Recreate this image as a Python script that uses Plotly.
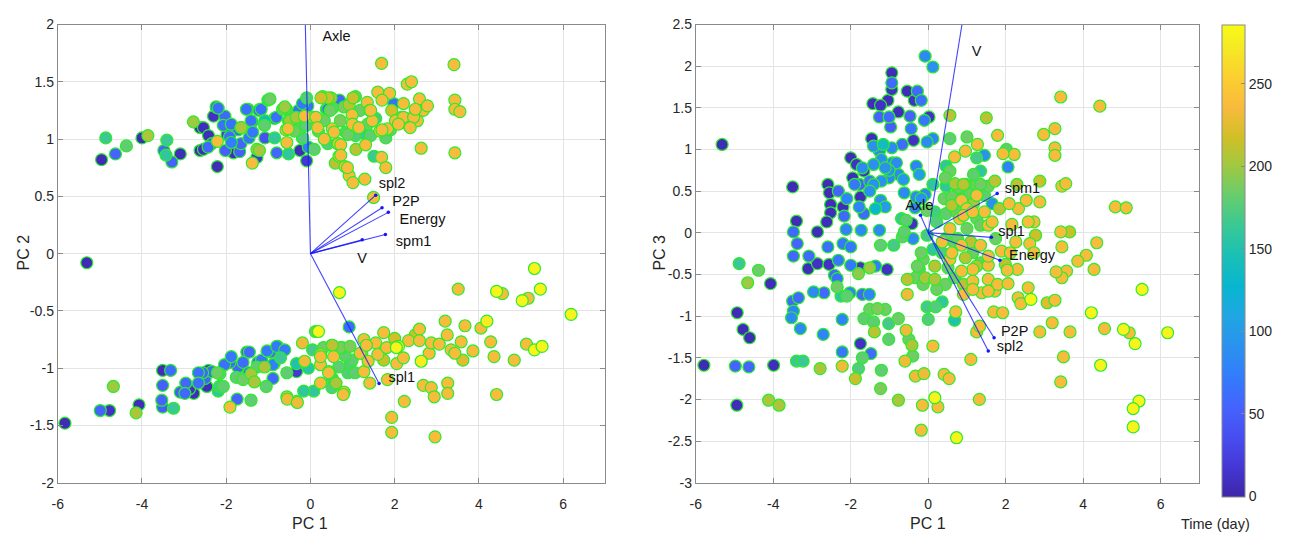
import plotly.graph_objects as go

# ---------------- scores: PC1 vs PC2 (upper branch) ----------------
up_pc1 = [
    -4.86, -4.96, -4.63, -4.37, -4.0, -3.86, -3.41, -3.48, -3.29, -3.09,
    -3.43, -2.78, -2.62, -2.62, -2.24, -2.30, -2.21, -2.21, -2.43, -2.07,
    -1.98, -1.88, -1.83, -1.65, -1.52, -1.22, -1.38, -1.46, -1.38, -1.27,
    -1.08, -1.01, -0.85, -0.80, -0.66, -0.58, -0.56, -0.61, -0.28, -0.25,
    -0.09, -0.09, 0.05, -0.19, -0.38, 0.09, 0.25, 0.42, 0.38, 0.69,
    0.47, 0.52, 0.66, 0.68, 0.59, 0.82, 0.92, 1.01, 1.29, 1.01,
    0.99, 1.06, 1.08, 1.35, 1.60, 1.88, 1.69, 1.41, 1.65, 1.83,
    1.69, 1.79, 1.98, 2.21, 2.16, 2.30, 2.40, 2.40, 2.35, 2.59,
    2.68, 2.78, 2.54, 2.63, 3.41, 3.43, 3.43, 3.55, 3.43, 1.36,
    1.79, 1.32, 0.80, 0.89, 1.50, 2.02, 0.33, 0.19, 0.71, 1.18,
    -0.85, -1.65, -1.08, -0.52, -2.02, -1.27, -0.52, -0.05, -0.19, 1.93,
    1.55,
    -0.96, -1.20, -0.81, -0.57, -0.53, -0.49, -0.34, -0.26, -0.14, -0.18,
    -0.06, -0.10, 0.13, 0.17, 0.29, 0.49, 0.41, 0.53, 1.07, 0.33,
    0.56, 0.41, 0.64, 0.72, 0.84, 1.00, 1.15, 1.07, 0.92, 0.72,
    0.88, 1.31, 1.43, 1.47, 1.43, 1.70, 1.70, 1.90, 2.21, 2.45,
    2.37, 2.09, 2.49, 1.51,
    -2.54, -2.42, -2.34, -2.19, -2.03, -1.88, -1.92, -1.72, -1.68, -1.48,
    -1.41, -1.37, -1.17, -1.09, -1.21, -1.64, -2.54,
]
up_pc2 = [
    1.01, 0.82, 0.87, 0.94, 1.01, 1.03, 0.99, 0.90, 0.80, 0.87,
    0.86, 1.15, 1.10, 0.90, 1.28, 1.20, 0.98, 0.76, 0.93, 1.12,
    1.04, 0.97, 0.88, 1.10, 1.26, 1.25, 1.15, 1.01, 0.79, 0.91,
    1.01, 1.34, 1.18, 0.88, 1.26, 1.08, 0.97, 1.28, 1.25, 0.90,
    1.36, 0.81, 1.19, 1.01, 1.07, 0.91, 1.36, 1.36, 1.26, 1.34,
    1.25, 1.09, 0.96, 0.85, 0.79, 0.76, 0.68, 0.62, 0.65, 1.36,
    1.21, 1.11, 0.91, 1.32, 1.41, 1.40, 1.66, 1.25, 1.07, 1.09,
    0.84, 0.75, 1.31, 1.31, 1.19, 1.48, 1.50, 1.18, 1.11, 1.35,
    1.25, 1.29, 1.16, 0.92, 1.65, 1.34, 1.26, 1.24, 0.88, 1.13,
    1.01, 1.04, 1.28, 1.04, 0.49, 1.16, 1.00, 1.07, 1.16, 1.25,
    1.01, 0.96, 1.16, 1.16, 0.90, 0.84, 0.87, 0.93, 1.31, 1.25,
    1.18,
    1.35, 1.26, 1.19, 1.26, 1.09, 1.16, 1.19, 1.09, 1.20, 1.01,
    1.29, 1.12, 1.19, 1.10, 1.37, 1.36, 1.26, 1.27, 1.37, 1.16,
    1.06, 0.96, 0.96, 0.95, 1.06, 1.13, 1.10, 1.03, 1.30, 0.86,
    0.75, 0.95, 1.03, 1.16, 1.25, 1.34, 1.08, 1.08, 1.19, 1.19,
    1.10, 1.13, 1.26, 0.85,
    1.10, 1.03, 0.96, 1.27, 1.20, 1.13, 1.02, 1.08, 0.89, 1.26,
    1.16, 1.06, 1.26, 1.12, 0.90, 1.10, 0.91,
]
up_day = [
    165, 5, 55, 180, 6, 205, 165, 58, 55, 8,
    160, 200, 8, 8, 62, 12, 238, 6, 58, 65,
    18, 75, 8, 180, 65, 65, 65, 70, 238, 200,
    40, 170, 58, 58, 185, 238, 238, 200, 65, 8,
    175, 18, 238, 160, 185, 180, 220, 215, 65, 58,
    185, 238, 238, 238, 210, 238, 238, 238, 238, 215,
    238, 238, 210, 238, 238, 238, 238, 238, 238, 238,
    238, 238, 65, 238, 238, 238, 238, 238, 238, 238,
    238, 238, 238, 238, 238, 238, 238, 238, 238, 185,
    180, 165, 190, 185, 238, 238, 238, 185, 190, 185,
    160, 55, 140, 150, 50, 18, 160, 75, 70, 220,
    170,
    185, 62, 65, 180, 238, 205, 205, 180, 238, 175,
    65, 180, 238, 238, 210, 205, 65, 180, 185, 185,
    238, 175, 180, 238, 180, 238, 238, 175, 210, 238,
    238, 238, 180, 238, 238, 238, 238, 185, 238, 238,
    238, 238, 238, 165,
    8, 8, 55, 62, 58, 65, 62, 58, 50, 62,
    65, 70, 65, 180, 205, 205, 8,
]

# ---------------- scores: PC1 vs PC2 (lower branch) ----------------
lo_pc1 = [
    -5.83, -5.31, -4.99, -4.77, -4.68, -4.14, -4.07, -3.51, -3.32, -3.51,
    -3.53, -3.51, -3.25, -3.09, -2.96, -2.66, -2.87, -2.42, -2.21, -2.16,
    -2.04, -1.91, -1.74, -1.60, -1.51, -1.46, -1.41, -1.16, -1.03, -0.80,
    -0.61, -0.89, -0.56, -0.33, -0.71, -0.56, -0.33, -0.19, -0.14, -0.33,
    -0.05, 0.19, 0.24, 0.24, 0.52, 0.44, 0.69, 0.71, 0.80, 0.92,
    0.99, 0.89, 1.27, 1.27, 1.55, 1.60, 1.81, 1.83, 2.00, 2.09,
    2.05, 2.33, 2.21, 2.49, 2.59, 2.59, 2.63, 2.82, 2.87, 3.06,
    3.20, 3.25, 3.34, 3.43, 3.58, 3.67, 3.86, 3.62, 3.51, 4.05,
    4.19, 4.28, 4.36, 4.42, 4.56, 4.42, 4.84, 5.03, 5.17, 5.13,
    5.32, 5.32, 5.46, 5.50, 6.19, 2.68, 2.87, 2.94, 3.26, 3.26,
    2.23, 1.93, 1.93, 2.96, 1.74, 0.52, 0.61, 0.05, -1.27, -0.89,
    -1.69, -2.50, -1.88, 1.74, 1.22,
    -2.15, -1.76, -1.72, -1.60, -1.45, -1.41, -1.33, -1.25, -1.09, -1.05,
    -0.94, -0.86, -0.78, -1.91, -2.19, -2.07, -2.34, -2.56, -2.66, -2.46,
    -2.98, -2.77,
    0.12, 0.31, 0.51, 0.75, 0.94, 0.24, 0.55, 0.82, 0.43, 0.67,
    0.94, 1.06, 1.18, 1.33, 1.37, 1.41, 0.78, 0.51, 0.08, -0.16,
    -0.55, -0.31, 0.24, 2.04,
]
lo_pc2 = [
    -1.48, -0.08, -1.37, -1.37, -1.16, -1.39, -1.32, -1.02, -1.02, -1.15,
    -1.28, -1.34, -1.35, -1.21, -1.13, -1.04, -1.18, -1.02, -1.04, -1.16,
    -0.97, -1.34, -1.27, -1.10, -0.86, -1.04, -1.28, -0.93, -0.85, -0.81,
    -0.84, -1.09, -1.25, -1.29, -0.91, -1.04, -0.96, -0.78, -0.94, -1.03,
    -1.00, -0.68, -0.88, -0.97, -0.80, -1.03, -0.34, -0.82, -1.21, -0.64,
    -0.93, -1.04, -0.75, -1.03, -0.78, -0.88, -0.82, -1.10, -0.74, -0.81,
    -0.96, -0.76, -0.91, -0.71, -0.66, -0.76, -0.94, -0.87, -0.78, -0.79,
    -0.59, -0.71, -0.84, -0.87, -0.77, -0.63, -0.85, -0.93, -0.31, -0.65,
    -0.59, -0.77, -0.90, -0.33, -0.35, -1.23, -0.93, -0.41, -0.39, -0.79,
    -0.13, -0.84, -0.31, -0.81, -0.53, -1.15, -1.17, -1.25, -1.13, -1.22,
    -1.29, -1.43, -1.56, -1.60, -0.93, -1.09, -1.13, -0.84, -0.99, -0.97,
    -0.99, -1.09, -0.90, -0.69, -0.87,
    -1.05, -1.08, -0.99, -0.95, -0.86, -1.05, -1.12, -0.95, -0.99, -1.16,
    -0.86, -0.96, -0.81, -0.95, -1.20, -1.16, -1.03, -1.04, -1.13, -1.16,
    -1.22, -1.22,
    -0.68, -0.82, -0.80, -0.82, -0.81, -0.90, -0.90, -0.89, -1.04, -0.99,
    -0.97, -1.04, -0.87, -0.80, -0.94, -1.13, -1.23, -1.17, -1.20, -1.20,
    -1.27, -1.30, -1.13, -0.82,
]
lo_day = [
    5, 5, 55, 12, 200, 205, 8, 6, 62, 50,
    55, 50, 165, 50, 58, 62, 12, 12, 185, 170,
    65, 238, 55, 185, 50, 65, 180, 70, 70, 70,
    70, 58, 232, 232, 165, 180, 150, 232, 232, 18,
    155, 280, 238, 238, 210, 238, 280, 190, 238, 62,
    180, 175, 238, 238, 238, 238, 238, 238, 220, 275,
    238, 238, 238, 220, 238, 238, 275, 238, 238, 238,
    238, 238, 238, 238, 238, 238, 238, 225, 238, 238,
    275, 238, 238, 280, 238, 238, 238, 280, 238, 238,
    280, 280, 280, 280, 280, 238, 238, 238, 238, 238,
    238, 238, 238, 238, 215, 175, 205, 170, 180, 75,
    18, 58, 70, 238, 205,
    180, 180, 58, 62, 58, 205, 205, 65, 205, 180,
    65, 65, 62, 62, 160, 180, 58, 58, 62, 8,
    58, 8,
    185, 185, 180, 185, 190, 238, 238, 180, 238, 180,
    175, 180, 238, 238, 238, 238, 238, 175, 160, 160,
    232, 232, 238, 280,
]

# ---------------- scores: PC1 vs PC3 ----------------
r_pc1 = [
    -5.32, -3.50, -3.40, -3.48, -3.38, -3.48, -3.08, -2.86, -3.10, -2.86,
    -2.59, -2.55, -2.52, -2.52, -2.62, -2.32, -2.59, -2.56, -2.32, -2.42,
    -2.35, -2.20, -2.17, -2.12, -2.20, -2.00, -1.95, -1.85, -1.77, -1.78,
    -1.73, -1.75, -1.66, -1.51, -1.46, -1.43, -1.23, -1.26, -1.01, -1.26,
    -1.21, -0.94, -0.94, -0.94, -1.04, -0.77, -0.97, -0.54, -0.28, -0.36,
    -0.18, -0.47, -0.44, -0.10, 0.02, -0.38, -0.08, 0.12, -0.94, -0.67,
    -0.92, -1.01, -0.77, -1.21, -1.41, -1.23, -1.36, -1.11, -0.64, -0.62,
    -0.23, -0.31, -0.03, 0.12, -0.31, -0.08, -0.42, -0.69, -0.67, -0.39,
    -1.06, -1.36, -1.23, -0.89, -1.26, -1.51, -1.75, -1.80, -2.00, -1.66,
    -2.00, -2.02, -1.70, -1.52, -2.25, -2.10, -2.35, -2.69, -2.96, -3.50,
    -3.35, -3.48, -3.53, -3.30, -2.71, -4.93, -4.78, -4.61, -4.88, -4.66,
    -4.38, -4.07, -5.79, -4.98, -4.63, -3.99, -4.94, -4.12, -3.85, -3.40,
    -3.23, -2.79, -2.22, -2.22, -2.22, -1.75, -1.48, -1.70, -1.80, -1.88,
    -1.39, -1.21, -1.23, -1.51, -1.31, -1.11, -1.66, -1.41, -1.02, -1.02,
    -0.77, -0.50, -0.42, -0.40, -0.77, -0.57, -0.60, -0.33, -0.11, -0.15,
    -0.18, 0.17, 0.25, 0.12, 0.00, -0.03, 0.19, 0.36, 0.41, 0.54,
    0.68, 0.71, 0.73, 1.10, 1.32, 1.25, 1.33, -0.54, -0.54, -0.33,
    -0.08, 0.17, 0.44, 0.68, 0.91, 1.15, 1.38, 1.55, 1.72, 1.79,
    1.69, 1.92, 2.06, 2.30, 2.32, 2.39, 2.58, 2.65, 2.88, 3.07,
    3.27, 3.20, 3.66, 3.49, 3.42, 4.21, 4.45, 4.55, 5.04, 5.19,
    5.34, 5.52, 5.44, 5.29, 5.29, 6.18, 4.28, 4.35, 4.08, 3.86,
    3.57, 3.45, 3.30, 3.45, 3.42, 3.65, 4.83, 5.11, 3.45, 3.55,
    2.88, 2.88, 2.73, 2.58, 2.77, 2.62, 2.73, 2.98, 3.27, 3.27,
    3.27, 3.42, 4.43, 1.79, 2.22, 1.93, 2.06, 2.02, 1.50, 1.27,
    0.96, 1.00, 0.56, 0.56, 0.68, 0.46, 1.25, 1.35, 1.45, 1.72,
    1.55, 1.15, 0.91, 0.76, 0.46, 0.41, 0.86, 1.00, 0.61, 1.25,
    1.45, 1.55, 1.25, 0.81, 1.00, 0.56, 0.46, 0.22, 0.36, 0.66,
    0.86, 1.10, 1.35, 1.74, 1.89, 2.12, 2.26, 2.16, 2.33, 2.53,
    2.29, 2.09, 1.84, 1.65, 2.04, 1.99, 1.55, 1.35, 1.15, 0.86,
    0.51, 0.17, -0.13, -0.18, -0.28, 0.12, 0.56, 0.96, -0.03, 0.17,
    0.56, 0.12, -0.03, -0.57, -0.34, -0.18, -0.62,
    0.44, 0.69, 0.96, 1.17, 1.35, 0.81, 1.08, 1.45, 0.61, 1.17,
    0.73, 0.91, 1.15, 1.35, 1.65, 0.46, 0.76, 1.15, 0.61, 0.36,
    1.55, 1.25, -0.23, -0.13, 0.22, 0.91, 1.15, 1.55,
    -1.70, -1.41, -1.11, -1.01, -1.51, -1.90, -2.10, -0.82, -1.16, -1.41,
]
r_pc3 = [
    1.06, 0.55, 0.14, 0.01, -0.13, -0.28, -0.28, 0.01, -0.43, -0.37,
    0.58, 0.48, 0.34, 0.24, 0.13, 0.50, -0.17, -0.38, -0.33, -0.51,
    -0.55, 0.31, 0.20, 0.04, -0.13, 0.90, 0.66, 0.82, 0.58, 0.31,
    0.03, 0.43, 0.74, 0.62, 1.13, 1.55, 1.53, 1.39, 1.39, 0.98,
    0.88, 1.92, 1.80, 1.72, 1.59, 1.45, 1.27, 1.70, 1.70, 1.59,
    1.59, 1.40, 1.25, 1.35, 1.39, 1.11, 2.12, 1.99, 1.02, 1.06,
    0.84, 0.75, 0.70, 0.62, 0.58, 0.39, 0.29, 0.31, 0.64, 0.48,
    0.70, 0.80, 1.09, 1.13, 0.43, 0.46, 0.11, 0.17, -0.05, -0.07,
    -0.44, -0.40, -0.15, -0.15, 0.03, -0.42, -0.42, -0.49, -0.39, 0.23,
    -0.17, -0.72, -0.74, -0.74, -0.76, -0.76, -0.65, -0.72, -0.71, -0.82,
    -0.78, -0.94, -1.02, -1.15, -1.22, -0.96, -1.16, -1.26, -0.37, -0.60,
    -0.45, -0.61, -1.59, -1.60, -1.61, -1.59, -2.07, -2.01, -2.07, -1.54,
    -1.54, -1.63, -1.04, -1.43, -1.60, -1.33, -1.45, -1.50, -1.63, -1.75,
    -1.19, -1.65, -1.87, -0.92, -0.91, -0.92, -1.03, -1.07, -1.09, -1.28,
    -1.03, -1.28, -1.35, -1.48, -2.01, -1.17, -1.54, -1.72, -1.69, -2.07,
    -2.37, -1.98, -2.09, -1.36, -1.04, -0.89, -0.89, -0.83, -1.70, -1.75,
    -1.05, -0.95, -2.46, -1.52, -2.00, -1.19, -1.12, -0.74, -0.56, -0.54,
    -0.54, -0.56, -0.62, -0.54, -0.62, -0.58, -0.72, -0.56, -0.70, -0.62,
    -0.95, -0.96, -0.61, -0.44, -0.78, -0.85, -0.66, -0.80, -1.19, -0.84,
    -0.81, -1.08, -1.19, -1.49, -1.79, -0.96, -1.59, -1.15, -1.16, -1.20,
    -1.33, -0.68, -2.02, -2.11, -2.33, -1.20, -0.44, -0.12, -0.27, -0.34,
    -0.46, -0.54, -0.47, -0.17, 0.01, 0.01, 0.31, 0.30, 0.56, 0.59,
    0.62, 0.37, 0.13, 0.13, -0.03, -0.13, -0.24, 1.18, 1.25, 1.02,
    0.93, 1.63, 1.52, 1.17, 0.94, 0.95, 0.79, 1.00, 1.38, 1.06,
    0.98, 1.15, 1.41, 1.13, 0.91, 0.80, 0.90, 0.74, 0.93, 0.62,
    0.56, 0.56, 0.58, 0.54, 0.56, 0.41, 0.39, 0.29, 0.33, 0.45,
    0.25, 0.09, 0.17, 0.17, 0.05, 0.05, 0.23, 0.13, -0.11, -0.11,
    -0.15, -0.11, -0.15, -0.07, -0.22, -0.24, -0.11, 0.10, 0.29, 0.39,
    0.58, 0.35, 0.29, 0.35, -0.45, -0.38, -0.39, -0.36, -0.44, -0.46,
    -0.42, -0.40, -0.32, -0.24, -0.40, -0.20, -0.32, -0.30, -0.03, 0.25,
    0.74, 0.58, 0.27, 0.15, 0.30, 0.41, 0.01,
    0.66, 0.59, 0.58, 0.70, 0.58, 0.48, 0.46, 0.45, 0.43, 0.35,
    0.25, 0.21, 0.25, 0.09, 0.13, -0.07, -0.07, -0.24, -0.24, -0.24,
    -0.28, -0.40, -0.44, -0.62, -0.68, -0.74, -0.68, -0.70,
    0.78, 0.82, 0.78, 0.66, 0.50, 0.58, 0.41, 0.84, 1.06, 1.04,
]
r_day = [
    5, 6, 6, 60, 55, 60, 60, 8, 8, 12,
    6, 6, 8, 8, 8, 55, 65, 12, 70, 60,
    65, 8, 60, 80, 70, 8, 8, 12, 55, 80,
    85, 8, 12, 70, 8, 8, 12, 55, 60, 85,
    90, 8, 60, 12, 8, 8, 50, 8, 60, 12,
    65, 55, 70, 70, 12, 12, 85, 90, 85, 60,
    85, 90, 85, 90, 90, 90, 130, 100, 95, 85,
    100, 80, 85, 80, 85, 80, 12, 165, 180, 85,
    12, 75, 180, 170, 85, 200, 12, 195, 70, 60,
    70, 85, 60, 80, 160, 180, 185, 60, 85, 60,
    60, 80, 85, 85, 80, 6, 6, 6, 165, 200,
    185, 8, 5, 55, 55, 8, 6, 205, 205, 165,
    165, 205, 80, 70, 232, 12, 60, 180, 175, 215,
    210, 180, 190, 185, 190, 185, 180, 180, 170, 180,
    185, 185, 205, 185, 205, 232, 232, 232, 232, 238,
    238, 280, 238, 238, 175, 170, 175, 160, 238, 238,
    150, 238, 280, 238, 238, 238, 238, 232, 210, 185,
    205, 205, 185, 185, 210, 238, 238, 238, 238, 238,
    238, 238, 238, 238, 238, 238, 238, 280, 238, 225,
    238, 238, 238, 238, 238, 280, 280, 238, 280, 238,
    280, 280, 280, 280, 280, 280, 238, 238, 238, 238,
    238, 238, 238, 238, 238, 215, 238, 238, 238, 238,
    215, 238, 238, 238, 215, 238, 238, 238, 238, 238,
    238, 238, 238, 238, 238, 238, 80, 180, 210, 238,
    238, 185, 210, 180, 238, 160, 170, 160, 90, 210,
    185, 185, 210, 185, 160, 185, 238, 238, 210, 238,
    238, 238, 185, 238, 185, 238, 180, 175, 238, 185,
    238, 210, 238, 185, 238, 238, 238, 238, 238, 238,
    210, 238, 210, 90, 238, 210, 238, 185, 238, 238,
    185, 210, 185, 185, 185, 160, 238, 210, 170, 170,
    185, 160, 185, 180, 80, 90, 180,
    185, 205, 185, 180, 185, 180, 185, 180, 185, 205,
    185, 238, 238, 185, 238, 180, 185, 185, 238, 175,
    238, 210, 180, 185, 185, 238, 238, 238,
    85, 90, 90, 85, 90, 70, 80, 85, 140, 90,
]

# ---------------- variable loadings (biplot vectors) ----------------
var_names = ["Axle", "spl2", "P2P", "Energy", "spm1", "V", "spl1"]
load_pc1 = [-0.20, 1.55, 1.70, 1.85, 1.78, 1.23, 1.63]
load_pc2 = [3.30, 0.51, 0.40, 0.36, 0.166, 0.12, -1.135]
load_pc3 = [0.21, -1.42, -1.26, -0.33, 0.47, 3.53, -0.055]

# label anchor points for each variable name (data units)
lab_left = {"Axle": (0.62, 1.89), "spl2": (1.94, 0.60), "P2P": (2.27, 0.45),
            "Energy": (2.66, 0.29), "spm1": (2.45, 0.10), "V": (1.23, -0.05),
            "spl1": (2.17, -1.09)}
lab_right = {"Axle": (-0.23, 0.32), "spl2": (2.11, -1.37), "P2P": (2.23, -1.19),
             "Energy": (2.68, -0.28), "spm1": (2.43, 0.52), "V": (1.25, 2.16),
             "spl1": (2.15, 0.0)}

day_max = 286
cbar_ticks = [0, 50, 100, 150, 200, 250]

# ---------------- styling ----------------
W, H = 1290, 547
FONT = "Liberation Sans, Arial, Helvetica, sans-serif"
TXT = "#262626"
EDGE = "rgb(45,235,45)"

parula_rgb = [
    (0.2422, 0.1504, 0.6603), (0.2706, 0.2147, 0.8364), (0.2813, 0.3006, 0.9414),
    (0.2699, 0.3892, 0.9906), (0.1963, 0.4847, 0.9892), (0.1687, 0.5703, 0.9359),
    (0.1248, 0.6459, 0.8883), (0.0297, 0.7082, 0.8163), (0.0964, 0.7500, 0.7120),
    (0.2161, 0.7843, 0.5923), (0.3909, 0.8029, 0.4354), (0.6174, 0.7876, 0.2612),
    (0.8203, 0.7498, 0.1535), (0.9728, 0.7298, 0.2394), (0.9892, 0.8136, 0.1885),
    (0.9597, 0.9135, 0.1423), (0.9769, 0.9839, 0.0805),
]
parula_pos = [i * 4 / 63 for i in range(16)] + [1.0]
PARULA = [[p, "rgb(%d,%d,%d)" % tuple(round(c * 255) for c in rgb)]
          for p, rgb in zip(parula_pos, parula_rgb)]


def dom_x(a, b):
    return [a / W, b / W]


def dom_y(top, bottom):
    return [1 - bottom / H, 1 - top / H]


fig = go.Figure()


def add_scores(xs, ys, ds, xa, ya):
    # later days drawn on top
    order = sorted(range(len(ds)), key=lambda i: ds[i])
    fig.add_trace(go.Scatter(
        x=[xs[i] for i in order], y=[ys[i] for i in order], mode="markers",
        marker=dict(size=12, color=[ds[i] for i in order], coloraxis="coloraxis",
                    line=dict(color=EDGE, width=1.2)),
        xaxis=xa, yaxis=ya, hoverinfo="skip", showlegend=False))


def add_vectors(vx, vy, labels, xa, ya):
    lx, ly = [], []
    for a, b in zip(vx, vy):
        lx += [0, a, None]
        ly += [0, b, None]
    fig.add_trace(go.Scatter(x=lx, y=ly, mode="lines",
                             line=dict(color="rgba(20,20,255,0.8)", width=1.1),
                             xaxis=xa, yaxis=ya, hoverinfo="skip", showlegend=False))
    fig.add_trace(go.Scatter(x=vx, y=vy, mode="markers",
                             marker=dict(size=3.5, color="rgb(20,20,255)"),
                             xaxis=xa, yaxis=ya, hoverinfo="skip", showlegend=False))
    fig.add_trace(go.Scatter(
        x=[labels[n][0] for n in var_names], y=[labels[n][1] for n in var_names],
        text=var_names, mode="text", textposition="middle center",
        textfont=dict(family=FONT, size=14.5, color="#111111"),
        xaxis=xa, yaxis=ya, hoverinfo="skip", showlegend=False))


add_scores(up_pc1 + lo_pc1, up_pc2 + lo_pc2, up_day + lo_day, "x", "y")
add_vectors(load_pc1, load_pc2, lab_left, "x", "y")
add_scores(r_pc1, r_pc3, r_day, "x2", "y2")
add_vectors(load_pc1, load_pc3, lab_right, "x2", "y2")


def fmt(v):
    return "%g" % v  # plain hyphen-minus for negatives


def axis(rng, ticks, domain, anchor):
    return dict(
        range=rng, tickvals=ticks, ticktext=[fmt(t) for t in ticks],
        domain=domain, anchor=anchor, showgrid=True, gridcolor="#e4e4e4",
        gridwidth=1, zeroline=False, showline=True, linecolor="#8a8a8a",
        linewidth=1, mirror="ticks", ticks="inside", ticklen=5,
        tickcolor="#8a8a8a", tickfont=dict(family=FONT, size=14, color=TXT),
        fixedrange=True,
    )


xt = [-6, -4, -2, 0, 2, 4, 6]
xaxis1 = axis([-6, 7], xt, dom_x(52, 602), "y")
xaxis1["ticklabelstandoff"] = 9
xaxis2 = axis([-6, 7], xt, dom_x(693, 1199), "y2")
xaxis2["ticklabelstandoff"] = 9

title_font = dict(family=FONT, size=16, color=TXT)


def label(text, x, xref, y, angle=0, font=title_font):
    return dict(text=text, x=x, xref=xref, y=1 - y / H, yref="paper",
                xanchor="center", yanchor="middle", textangle=angle,
                showarrow=False, font=font)


fig.update_layout(
    width=W, height=H, margin=dict(l=0, r=0, t=0, b=0),
    paper_bgcolor="white", plot_bgcolor="white",
    font=dict(family=FONT, size=14, color=TXT),
    xaxis=xaxis1,
    yaxis=axis([-2, 2], [-2, -1.5, -1, -0.5, 0, 0.5, 1, 1.5, 2],
               dom_y(17, 489), "x"),
    xaxis2=xaxis2,
    yaxis2=axis([-3, 2.5], [-3, -2.5, -2, -1.5, -1, -0.5, 0, 0.5, 1, 1.5, 2, 2.5],
                dom_y(17, 489), "x2"),
    coloraxis=dict(
        colorscale=PARULA, cmin=0, cmax=day_max,
        colorbar=dict(
            x=1222 / W, xanchor="left", y=1 - 17 / H, yanchor="top",
            len=472, lenmode="pixels", thickness=23, thicknessmode="pixels",
            outlinecolor="#8a8a8a", outlinewidth=1, ticks="inside", ticklen=4,
            tickcolor="#8a8a8a", tickvals=cbar_ticks,
            tickfont=dict(family=FONT, size=14, color=TXT), xpad=0, ypad=0),
    ),
    annotations=[
        label("PC 1", 0, "x", 531),
        label("PC 1", 0, "x2", 531),
        label("PC 2", 18 / W, "paper", 252, -90),
        label("PC 3", 657 / W, "paper", 252, -90),
        label("Time (day)", 1215 / W, "paper", 532,
              font=dict(family=FONT, size=14.5, color=TXT)),
    ],
)

fig.write_html("out.html")
